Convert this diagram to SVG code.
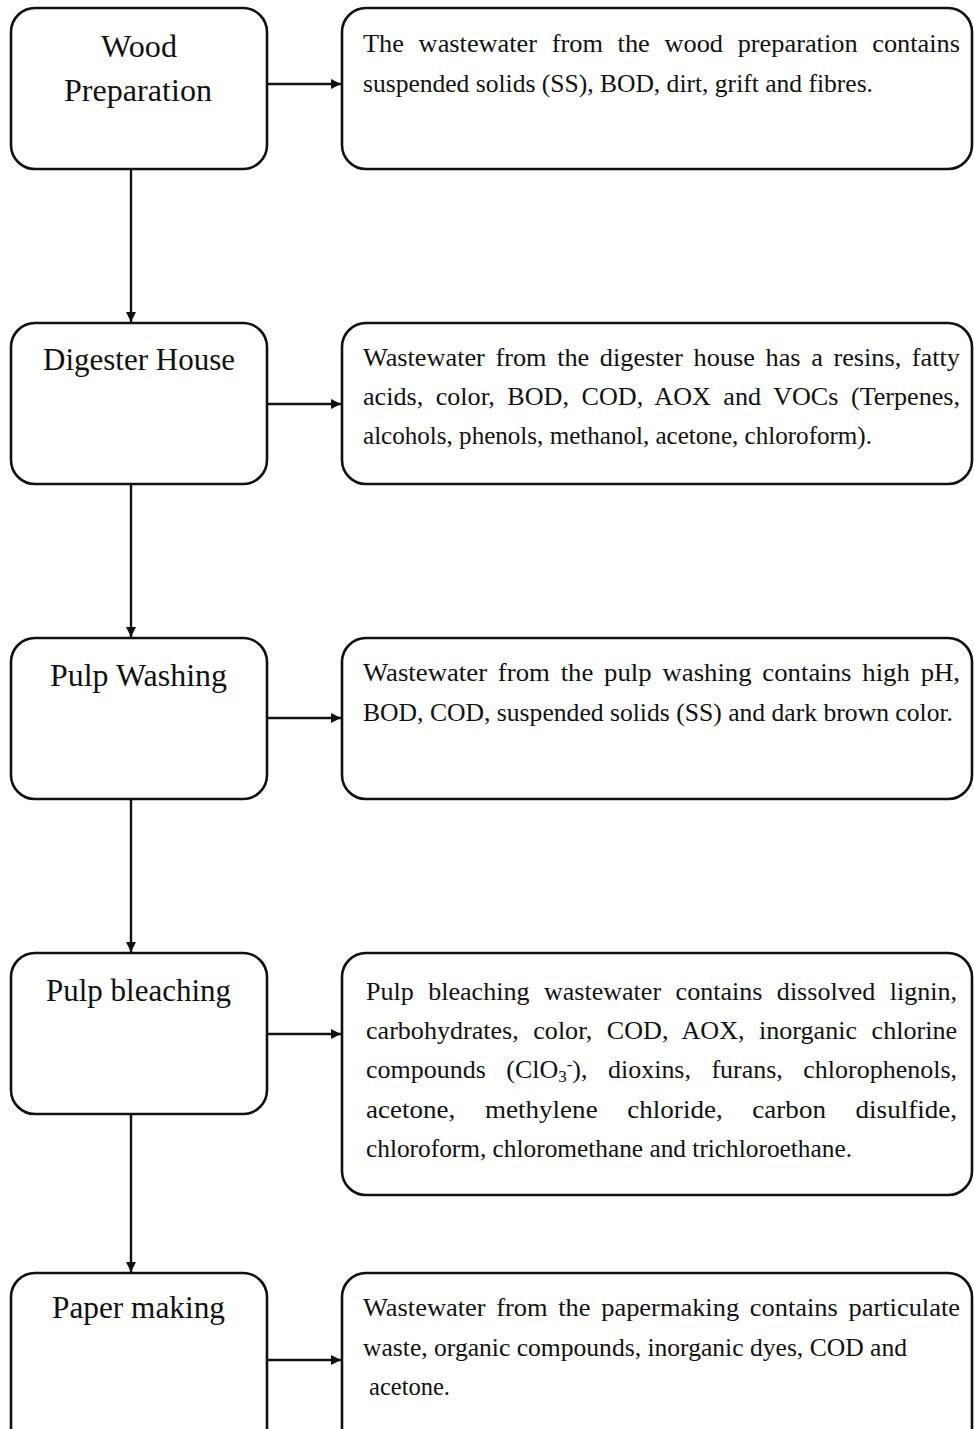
<svg xmlns="http://www.w3.org/2000/svg" width="974" height="1429" viewBox="0 0 974 1429">
<style>
.box{fill:#fff;stroke:#111;stroke-width:2.6}
.lbl{font-family:"Liberation Serif","Times New Roman",serif;font-size:32px;fill:#111}
.txt{font-family:"Liberation Serif","Times New Roman",serif;font-size:26px;fill:#111}
.con{stroke:#111;stroke-width:2.4;fill:none}
</style>
<defs>
<marker id="ah" viewBox="0 0 10 10" refX="10" refY="5" markerWidth="10" markerHeight="10" markerUnits="userSpaceOnUse" orient="auto">
<path d="M0,0 L10,5 L0,10 z" fill="#111"/>
</marker>
</defs>
<rect width="974" height="1429" fill="#fff"/>
<g id="connectors">
<line class="con" x1="131" y1="169" x2="131" y2="322" marker-end="url(#ah)"/>
<line class="con" x1="131" y1="484" x2="131" y2="637" marker-end="url(#ah)"/>
<line class="con" x1="131" y1="799" x2="131" y2="952" marker-end="url(#ah)"/>
<line class="con" x1="131" y1="1114" x2="131" y2="1272" marker-end="url(#ah)"/>
<line class="con" x1="267" y1="84" x2="341" y2="84" marker-end="url(#ah)"/>
<line class="con" x1="267" y1="404" x2="341" y2="404" marker-end="url(#ah)"/>
<line class="con" x1="267" y1="718" x2="341" y2="718" marker-end="url(#ah)"/>
<line class="con" x1="267" y1="1034" x2="341" y2="1034" marker-end="url(#ah)"/>
<line class="con" x1="267" y1="1360" x2="341" y2="1360" marker-end="url(#ah)"/>
</g>
<g id="wood-preparation">
<rect class="box" x="11" y="8" width="256" height="161" rx="24"/>
<text class="lbl" x="101" y="57" textLength="76" lengthAdjust="spacingAndGlyphs">Wood</text>
<text class="lbl" x="64" y="101" textLength="148" lengthAdjust="spacingAndGlyphs">Preparation</text>
</g>
<g id="wood-preparation-note">
<rect class="box" x="342" y="8" width="630" height="161" rx="24"/>
<text class="txt" x="363" y="52" textLength="597" lengthAdjust="spacingAndGlyphs" word-spacing="8">The wastewater from the wood preparation contains</text>
<text class="txt" x="363" y="92" textLength="510" lengthAdjust="spacingAndGlyphs">suspended solids (SS), BOD, dirt, grift and fibres.</text>
</g>
<g id="digester-house">
<rect class="box" x="11" y="323" width="256" height="161" rx="24"/>
<text class="lbl" x="43" y="370" textLength="192" lengthAdjust="spacingAndGlyphs">Digester House</text>
</g>
<g id="digester-house-note">
<rect class="box" x="342" y="323" width="630" height="161" rx="24"/>
<text class="txt" x="363" y="366" textLength="597" lengthAdjust="spacingAndGlyphs" word-spacing="4">Wastewater  from the digester house   has a   resins, fatty</text>
<text class="txt" x="363" y="405" textLength="597" lengthAdjust="spacingAndGlyphs" word-spacing="6">acids, color, BOD, COD, AOX and VOCs (Terpenes,</text>
<text class="txt" x="363" y="444" textLength="509" lengthAdjust="spacingAndGlyphs">alcohols, phenols, methanol, acetone, chloroform).</text>
</g>
<g id="pulp-washing">
<rect class="box" x="11" y="638" width="256" height="161" rx="24"/>
<text class="lbl" x="50" y="686" textLength="177" lengthAdjust="spacingAndGlyphs">Pulp Washing</text>
</g>
<g id="pulp-washing-note">
<rect class="box" x="342" y="638" width="630" height="161" rx="24"/>
<text class="txt" x="363" y="681" textLength="597" lengthAdjust="spacingAndGlyphs" word-spacing="4">Wastewater from the pulp washing contains high pH,</text>
<text class="txt" x="363" y="721" textLength="590" lengthAdjust="spacingAndGlyphs">BOD, COD, suspended solids (SS) and dark brown color.</text>
</g>
<g id="pulp-bleaching">
<rect class="box" x="11" y="953" width="256" height="161" rx="24"/>
<text class="lbl" x="46" y="1001" textLength="185" lengthAdjust="spacingAndGlyphs">Pulp bleaching</text>
</g>
<g id="pulp-bleaching-note">
<rect class="box" x="342" y="953" width="630" height="242" rx="24"/>
<text class="txt" x="366" y="1000" textLength="591" lengthAdjust="spacingAndGlyphs" word-spacing="8">Pulp bleaching wastewater contains dissolved lignin,</text>
<text class="txt" x="366" y="1039" textLength="591" lengthAdjust="spacingAndGlyphs" word-spacing="8">carbohydrates, color, COD, AOX, inorganic chlorine</text>
<text class="txt" x="366" y="1078" textLength="591" lengthAdjust="spacingAndGlyphs" word-spacing="14">compounds (ClO<tspan font-size="17" dy="4">3</tspan><tspan font-size="17" dy="-12">-</tspan><tspan dy="8">), dioxins, furans, chlorophenols,</tspan></text>
<text class="txt" x="366" y="1118" textLength="591" lengthAdjust="spacingAndGlyphs" word-spacing="22">acetone, methylene chloride, carbon disulfide,</text>
<text class="txt" x="366" y="1157" textLength="486" lengthAdjust="spacingAndGlyphs">chloroform, chloromethane  and trichloroethane.</text>
</g>
<g id="paper-making">
<rect class="box" x="11" y="1273" width="256" height="180" rx="24"/>
<text class="lbl" x="52" y="1318" textLength="173" lengthAdjust="spacingAndGlyphs">Paper making</text>
</g>
<g id="paper-making-note">
<rect class="box" x="342" y="1273" width="630" height="180" rx="24"/>
<text class="txt" x="363" y="1316" textLength="597" lengthAdjust="spacingAndGlyphs" word-spacing="4">Wastewater from the papermaking contains particulate</text>
<text class="txt" x="363" y="1356" textLength="544" lengthAdjust="spacingAndGlyphs">waste, organic compounds, inorganic dyes, COD and</text>
<text class="txt" x="369" y="1395" textLength="81" lengthAdjust="spacingAndGlyphs">acetone.</text>
</g>
</svg>
